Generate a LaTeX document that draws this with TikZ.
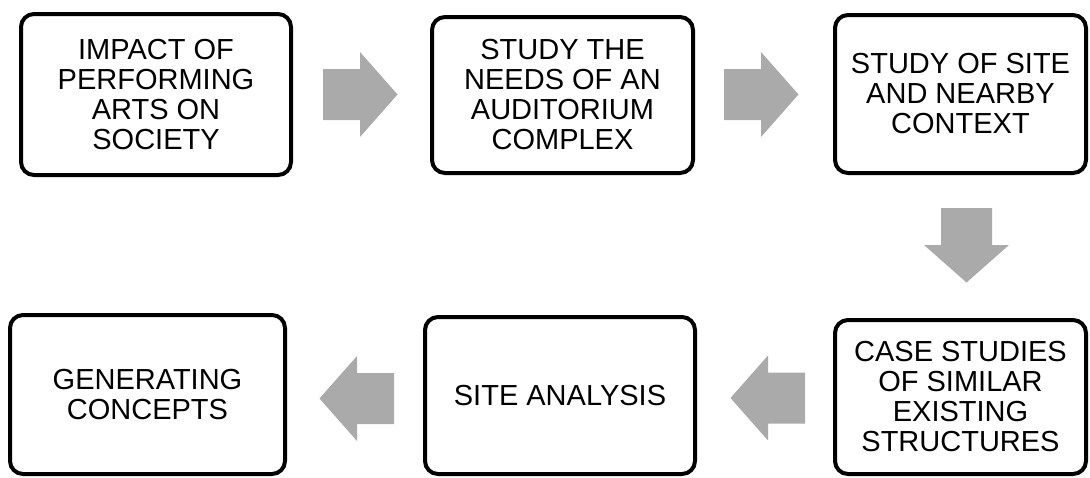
\documentclass[tikz,border=0pt]{standalone}
\usepackage{fontspec}
\setmainfont{Liberation Sans}
\definecolor{arrowgray}{RGB}{170,170,170}
\tikzset{
  stepbox/.style={draw=black, line width=4pt, rounded corners=13pt, rectangle,
    align=center, inner sep=0pt, font=\fontsize{29}{30}\selectfont},
  pics/blockarrow/.style={code={
    \fill[arrowgray] (-37,-25.5) -- (0,-25.5) -- (0,-42.5) -- (37.5,0)
      -- (0,42.5) -- (0,25.5) -- (-37,25.5) -- cycle;}}
}
\begin{document}
\begin{tikzpicture}[x=1pt,y=-1pt]
\useasboundingbox[fill=white] (0,0) rectangle (1090,477);
\node[stepbox, minimum width=270pt, minimum height=161pt] (b1) at (156,94.5)
  {IMPACT OF\\PERFORMING\\ARTS ON\\SOCIETY};
\node[stepbox, minimum width=261pt, minimum height=156pt] (b2) at (562.5,95)
  {STUDY THE\\NEEDS OF AN\\AUDITORIUM\\COMPLEX};
\node[stepbox, minimum width=251pt, minimum height=158pt] (b3) at (960.5,94)
  {STUDY OF SITE\\AND NEARBY\\CONTEXT};
\node[stepbox, minimum width=251pt, minimum height=154pt] (b6) at (960.5,397)
  {CASE STUDIES\\OF SIMILAR\\EXISTING\\STRUCTURES};
\node[stepbox, minimum width=270pt, minimum height=157pt] (b5) at (560,395.5)
  {SITE ANALYSIS};
\node[stepbox, minimum width=275pt, minimum height=159pt] (b4) at (147.5,394.5)
  {GENERATING\\CONCEPTS};
\coordinate (a1) at (360,94.5);
\coordinate (a2) at (761,94.5);
\coordinate (a3) at (966.5,245);
\coordinate (a4) at (768,398);
\coordinate (a5) at (357,398.5);
\pic at (a1) {blockarrow};
\pic at (a2) {blockarrow};
\pic[rotate=-90] at (a3) {blockarrow};
\pic[rotate=180] at (a4) {blockarrow};
\pic[rotate=180] at (a5) {blockarrow};
\end{tikzpicture}
\end{document}
